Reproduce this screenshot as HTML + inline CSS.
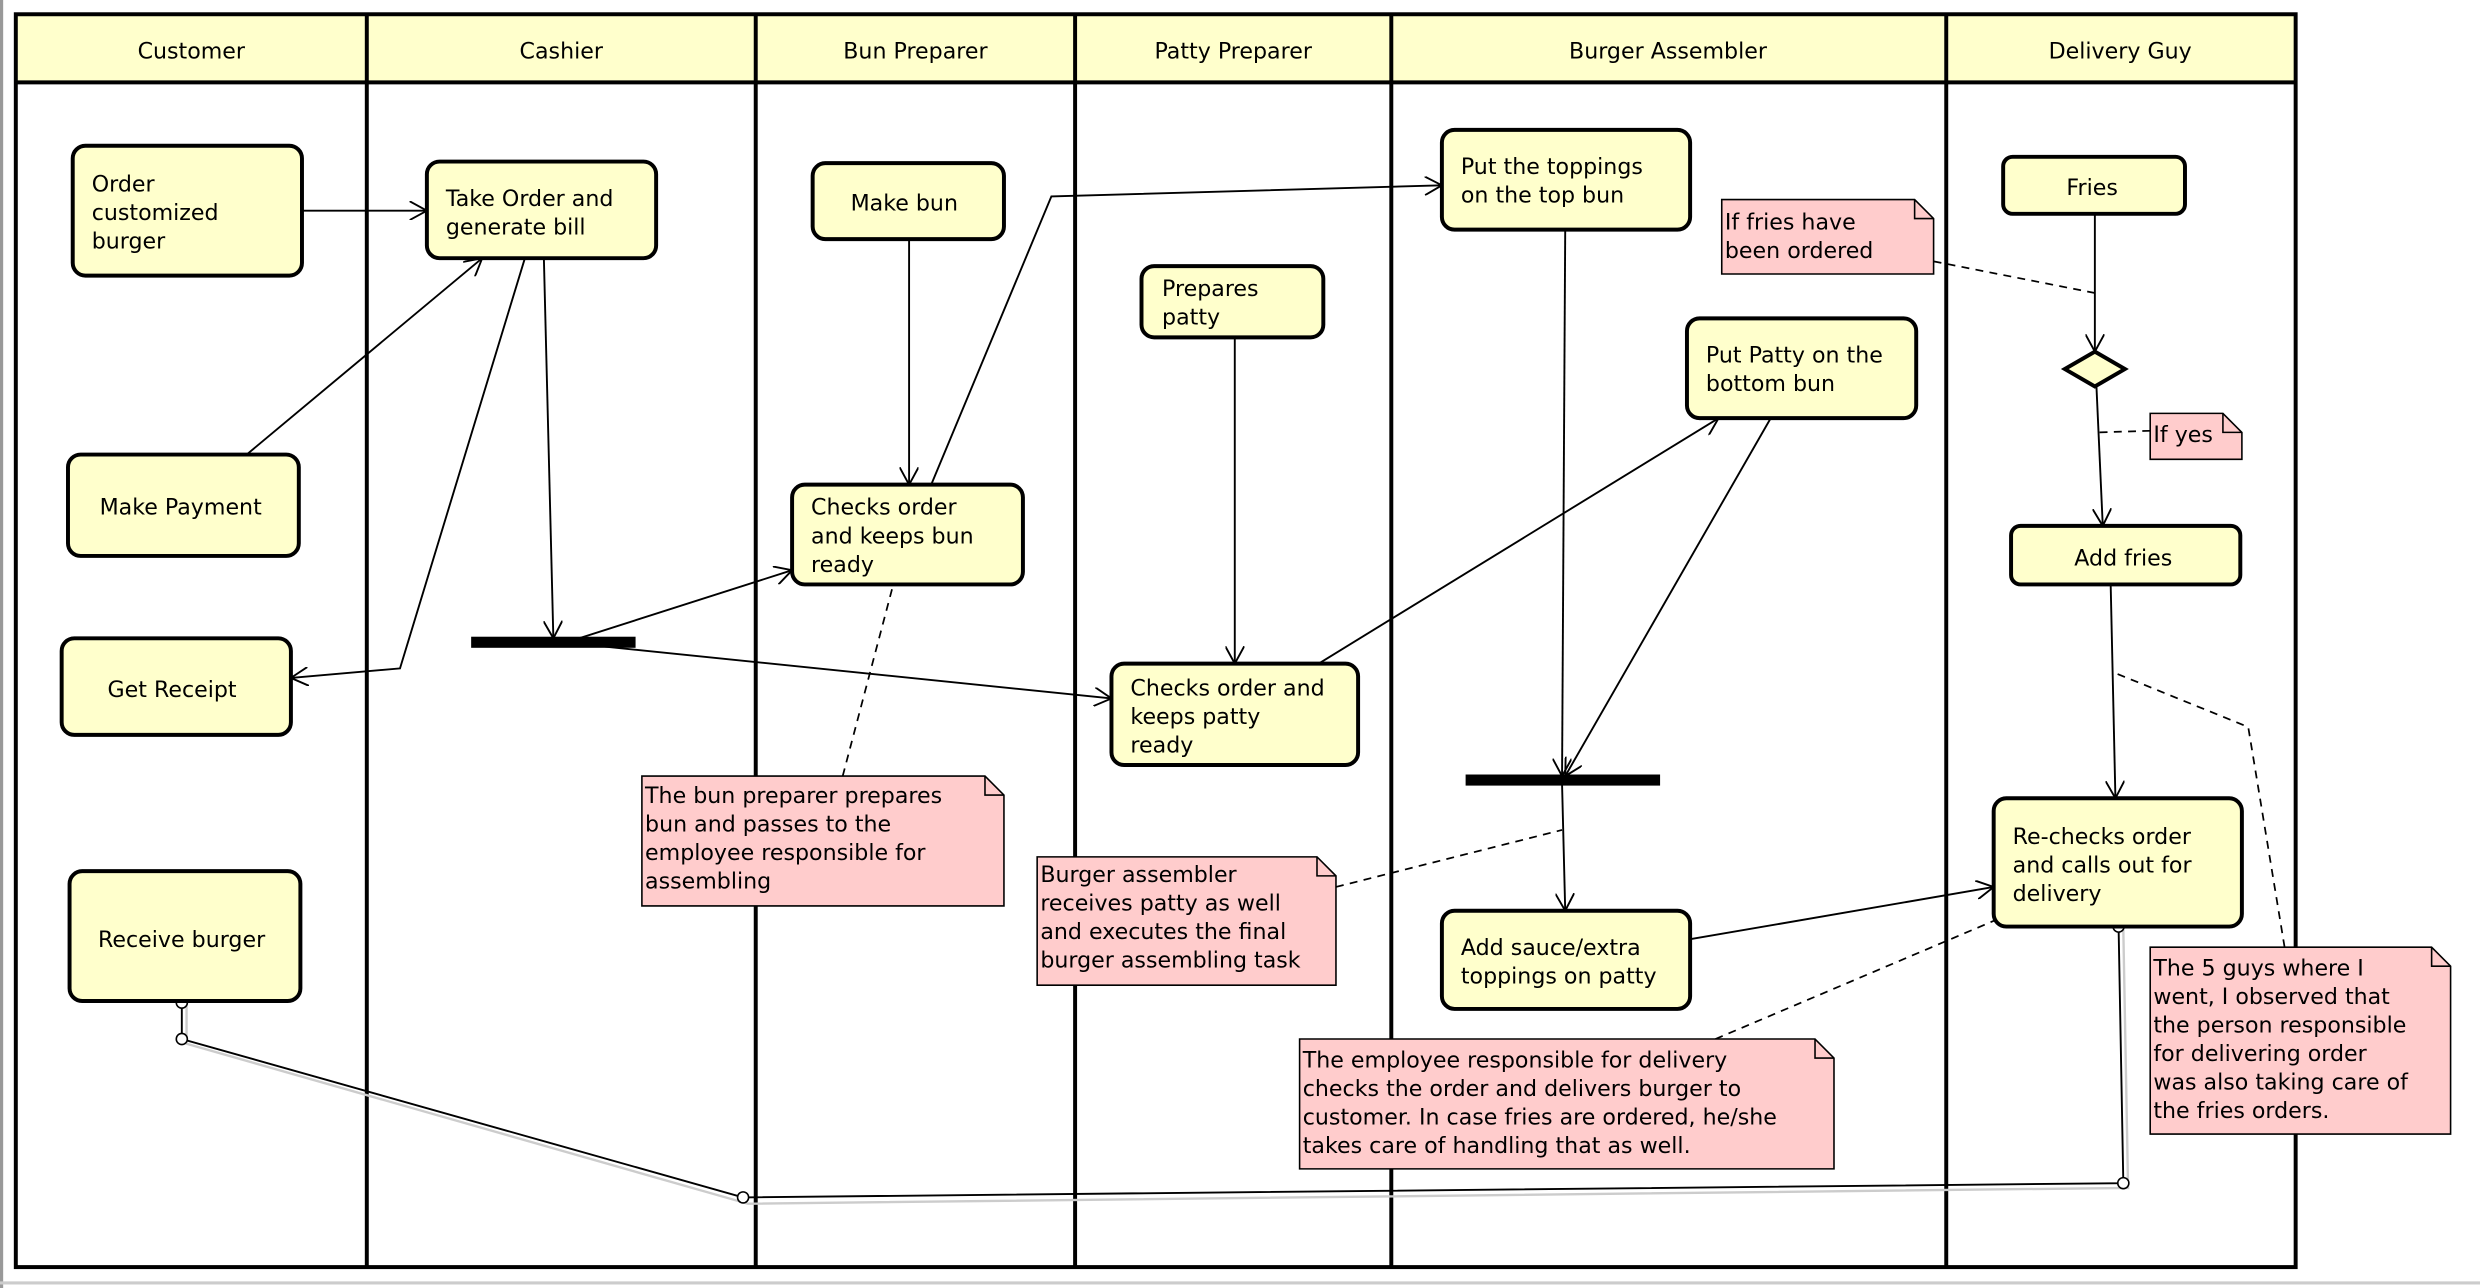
<!DOCTYPE html>
<html><head><meta charset="utf-8"><style>
html,body{margin:0;padding:0;background:#fff;}
svg{display:block;}
text{font-family:"DejaVu Sans","Liberation Sans",sans-serif;font-size:14px;fill:#000;}
.n{fill:#ffffcc;stroke:#000;stroke-width:2.5;}
.note{fill:#ffcccc;stroke:#000;stroke-width:1;}
.e{stroke:#000;stroke-width:1.2;fill:none;}
.d{stroke:#000;stroke-width:1.1;fill:none;stroke-dasharray:5,4;}
.lane{stroke:#000;stroke-width:2.5;}
</style></head><body>
<svg width="2480" height="1288" viewBox="0 0 1568.6 813.2" preserveAspectRatio="none" xmlns="http://www.w3.org/2000/svg">
<defs>
<marker id="a" viewBox="0 0 12 12" refX="11" refY="6" markerWidth="12" markerHeight="12" markerUnits="userSpaceOnUse" orient="auto">
<path d="M0,0 L11,6 L0,12" fill="none" stroke="#000" stroke-width="1.2"/>
</marker>
</defs>
<rect x="0" y="0" width="1570" height="815" fill="#fff"/>
<line x1="1" y1="0" x2="1" y2="815" stroke="#999" stroke-width="2"/>
<line x1="0" y1="810" x2="1570" y2="810" stroke="#ccc" stroke-width="2"/>
<!-- lanes -->
<rect x="10" y="9" width="1442" height="43" fill="#ffffcc"/>
<rect x="10" y="9" width="1442" height="791" fill="none" stroke="#000" stroke-width="2.5"/>
<line class="lane" x1="10" y1="52" x2="1452" y2="52"/>
<line class="lane" x1="232" y1="9" x2="232" y2="800"/>
<line class="lane" x1="478" y1="9" x2="478" y2="800"/>
<line class="lane" x1="680" y1="9" x2="680" y2="800"/>
<line class="lane" x1="880" y1="9" x2="880" y2="800"/>
<line class="lane" x1="1231" y1="9" x2="1231" y2="800"/>
<g text-anchor="middle">
<text x="121" y="37">Customer</text>
<text x="355" y="37">Cashier</text>
<text x="579" y="37">Bun Preparer</text>
<text x="780" y="37">Patty Preparer</text>
<text x="1055" y="37">Burger Assembler</text>
<text x="1341" y="37">Delivery Guy</text>
</g>

<!-- edges -->
<line class="e" x1="191" y1="133" x2="270" y2="133" marker-end="url(#a)"/>
<line class="e" x1="156" y1="287" x2="305" y2="163" marker-end="url(#a)"/>
<polyline class="e" points="332,163 253,422 184,428" marker-end="url(#a)"/>
<line class="e" x1="344" y1="163" x2="350" y2="403" marker-end="url(#a)"/>
<line class="e" x1="360" y1="405" x2="501" y2="360" marker-end="url(#a)"/>
<line class="e" x1="380" y1="408" x2="703" y2="441" marker-end="url(#a)"/>
<line class="e" x1="575" y1="151" x2="575" y2="306" marker-end="url(#a)"/>
<polyline class="e" points="589,306 665,124 912,117" marker-end="url(#a)"/>
<line class="e" x1="781" y1="213" x2="781" y2="419" marker-end="url(#a)"/>
<line class="e" x1="834" y1="419" x2="1087" y2="264" marker-end="url(#a)"/>
<line class="e" x1="990" y1="145" x2="988" y2="490" marker-end="url(#a)"/>
<line class="e" x1="1120" y1="264" x2="990" y2="490" marker-end="url(#a)"/>
<line class="e" x1="988" y1="495" x2="990" y2="575" marker-end="url(#a)"/>
<line class="e" x1="1069" y1="593" x2="1261" y2="560" marker-end="url(#a)"/>
<line class="e" x1="1325" y1="135" x2="1325" y2="222" marker-end="url(#a)"/>
<line class="e" x1="1326" y1="244" x2="1330" y2="332" marker-end="url(#a)"/>
<line class="e" x1="1335" y1="369" x2="1338" y2="504" marker-end="url(#a)"/>
<polyline points="1343,587 1346,750 473,760 118,659 118,634" fill="none" stroke="#ccc" stroke-width="1.5"/>
<polyline class="e" points="1340,585 1343,747 470,756 115,656 115,632"/>
<g fill="#fff" stroke="#000" stroke-width="1">
<circle cx="1340" cy="585" r="3.5"/><circle cx="1343" cy="747" r="3.5"/>
<circle cx="470" cy="756" r="3.5"/><circle cx="115" cy="656" r="3.5"/><circle cx="115" cy="633" r="3.5"/>
</g>
<!-- dashed -->
<line class="d" x1="1223" y1="165" x2="1325" y2="185"/>
<line class="d" x1="1360" y1="272" x2="1327" y2="273"/>
<line class="d" x1="533" y1="490" x2="565" y2="369"/>
<line class="d" x1="845" y1="560" x2="988" y2="524"/>
<line class="d" x1="1085" y1="656" x2="1262" y2="581"/>
<polyline class="d" points="1445,598 1422,459 1338,425"/>

<!-- fork bars -->
<rect x="298" y="402" width="104" height="7" fill="#000"/>
<rect x="927" y="489" width="123" height="7" fill="#000"/>
<!-- diamond -->
<polygon points="1325,222 1344,233 1325,244 1306,233" fill="#ffffcc" stroke="#000" stroke-width="2.5"/>

<!-- nodes -->
<rect class="n" x="46" y="92" width="145" height="82" rx="8"/>
<text x="58" y="121">Order</text><text x="58" y="139">customized</text><text x="58" y="157">burger</text>
<rect class="n" x="270" y="102" width="145" height="61" rx="8"/>
<text x="282" y="130">Take Order and</text><text x="282" y="148">generate bill</text>
<rect class="n" x="43" y="287" width="146" height="64" rx="8"/>
<text x="63" y="325">Make Payment</text>
<rect class="n" x="39" y="403" width="145" height="61" rx="8"/>
<text x="68" y="440">Get Receipt</text>
<rect class="n" x="44" y="550" width="146" height="82" rx="8"/>
<text x="62" y="598">Receive burger</text>
<rect class="n" x="514" y="103" width="121" height="48" rx="8"/>
<text x="538" y="133">Make bun</text>
<rect class="n" x="501" y="306" width="146" height="63" rx="8"/>
<text x="513" y="325">Checks order</text><text x="513" y="343">and keeps bun</text><text x="513" y="361">ready</text>
<rect class="n" x="722" y="168" width="115" height="45" rx="8"/>
<text x="735" y="187">Prepares</text><text x="735" y="205">patty</text>
<rect class="n" x="703" y="419" width="156" height="64" rx="8"/>
<text x="715" y="439">Checks order and</text><text x="715" y="457">keeps patty</text><text x="715" y="475">ready</text>
<rect class="n" x="912" y="82" width="157" height="63" rx="8"/>
<text x="924" y="110">Put the toppings</text><text x="924" y="128">on the top bun</text>
<rect class="n" x="1067" y="201" width="145" height="63" rx="8"/>
<text x="1079" y="229">Put Patty on the</text><text x="1079" y="247">bottom bun</text>
<rect class="n" x="912" y="575" width="157" height="62" rx="8"/>
<text x="924" y="603">Add sauce/extra</text><text x="924" y="621">toppings on patty</text>
<rect class="n" x="1267" y="99" width="115" height="36" rx="6"/>
<text x="1307" y="123">Fries</text>
<rect class="n" x="1272" y="332" width="145" height="37" rx="6"/>
<text x="1312" y="357">Add fries</text>
<rect class="n" x="1261" y="504" width="157" height="81" rx="8"/>
<text x="1273" y="533">Re-checks order</text><text x="1273" y="551">and calls out for</text><text x="1273" y="569">delivery</text>

<!-- notes -->
<g>
<path class="note" d="M1089,126 H1211 L1223,138 V173 H1089 Z"/><path d="M1211,126 V138 H1223" fill="none" stroke="#000"/>
<text x="1091" y="145">If fries have</text><text x="1091" y="163">been ordered</text>
<path class="note" d="M1360,261 H1406 L1418,273 V290 H1360 Z"/><path d="M1406,261 V273 H1418" fill="none" stroke="#000"/>
<text x="1362" y="279">If yes</text>
<path class="note" d="M406,490 H623 L635,502 V572 H406 Z"/><path d="M623,490 V502 H635" fill="none" stroke="#000"/>
<text x="408" y="507">The bun preparer prepares</text><text x="408" y="525">bun and passes to the</text><text x="408" y="543">employee responsible for</text><text x="408" y="561">assembling</text>
<path class="note" d="M656,541 H833 L845,553 V622 H656 Z"/><path d="M833,541 V553 H845" fill="none" stroke="#000"/>
<text x="658" y="557">Burger assembler</text><text x="658" y="575">receives patty as well</text><text x="658" y="593">and executes the final</text><text x="658" y="611">burger assembling task</text>
<path class="note" d="M822,656 H1148 L1160,668 V738 H822 Z"/><path d="M1148,656 V668 H1160" fill="none" stroke="#000"/>
<text x="824" y="674">The employee responsible for delivery</text><text x="824" y="692">checks the order and delivers burger to</text><text x="824" y="710">customer. In case fries are ordered, he/she</text><text x="824" y="728">takes care of handling that as well.</text>
<path class="note" d="M1360,598 H1538 L1550,610 V716 H1360 Z"/><path d="M1538,598 V610 H1550" fill="none" stroke="#000"/>
<text x="1362" y="616">The 5 guys where I</text><text x="1362" y="634">went, I observed that</text><text x="1362" y="652">the person responsible</text><text x="1362" y="670">for delivering order</text><text x="1362" y="688">was also taking care of</text><text x="1362" y="706">the fries orders.</text>
</g>
</svg>
</body></html>
